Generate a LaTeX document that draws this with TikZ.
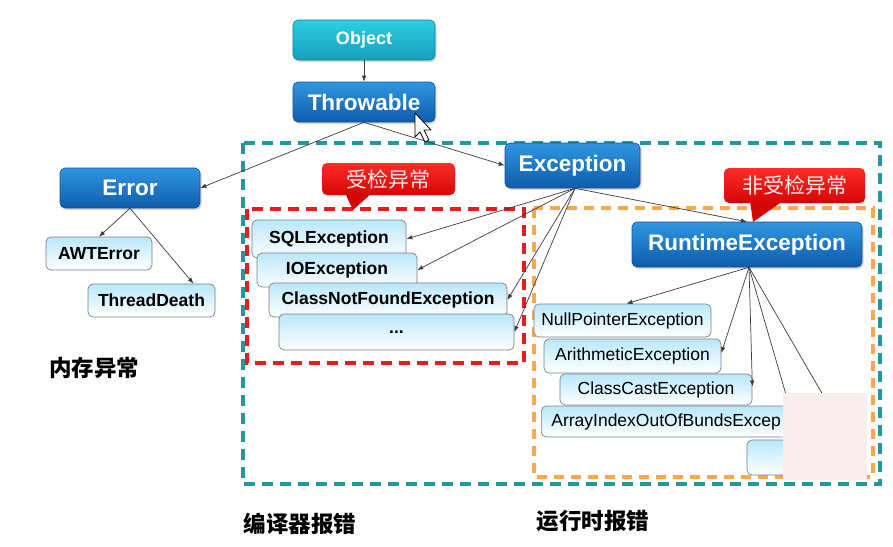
\documentclass[tikz,border=0pt]{standalone}
\usepackage{fontspec}
\setmainfont{Liberation Sans}
\newfontfamily\cjk{Noto Sans CJK SC}
\usetikzlibrary{arrows.meta,shadows}
\definecolor{bluetop}{RGB}{48,150,225}
\definecolor{bluebot}{RGB}{14,92,172}
\definecolor{blueedge}{RGB}{20,80,150}
\definecolor{cyantop}{RGB}{45,205,225}
\definecolor{cyanbot}{RGB}{20,160,190}
\definecolor{lighttop}{RGB}{185,232,250}
\definecolor{lightedge}{RGB}{120,128,136}
\definecolor{tealdash}{RGB}{35,150,160}
\definecolor{reddash}{RGB}{232,28,28}
\definecolor{orangedash}{RGB}{250,168,75}
\definecolor{calltop}{RGB}{252,45,40}
\definecolor{callbot}{RGB}{212,5,5}
\definecolor{calltext}{RGB}{255,232,232}
\definecolor{maskpink}{RGB}{248,238,238}
\definecolor{arrowgray}{RGB}{60,60,60}
\begin{document}
\begin{tikzpicture}[x=1pt,y=-1pt,
  bluebox/.style={rounded corners=5pt, draw=blueedge, line width=0.6pt,
    top color=bluetop, bottom color=bluebot, text=white, inner sep=0pt,
    font=\fontsize{22.5}{26}\selectfont\bfseries,
    drop shadow={shadow xshift=1.5pt,shadow yshift=-2pt,opacity=0.3}},
  cyanbox/.style={bluebox, top color=cyantop, bottom color=cyanbot,
    draw=cyanbot!80!black, font=\fontsize{18}{21}\selectfont\bfseries},
  lightbox/.style={rounded corners=5pt, draw=lightedge, line width=0.7pt,
    top color=lighttop, bottom color=white, inner sep=0pt, text=black,
    font=\fontsize{17.5}{21}\selectfont\bfseries},
  lightreg/.style={lightbox, font=\fontsize{17.5}{21}\selectfont},
  arr/.style={draw=arrowgray, line width=0.7pt, -{Latex[length=6pt,width=4.5pt]}},
  plainline/.style={draw=arrowgray, line width=0.7pt},
  callbox/.style={rounded corners=5pt, top color=calltop, bottom color=callbot,
    inner sep=0pt, text=calltext, font=\cjk\fontsize{21}{24}\selectfont},
  cjklabel/.style={font=\cjk\bfseries\fontsize{22.5}{26}\selectfont, text=black, inner sep=0pt}
]
\useasboundingbox (0,0) rectangle (893,546);
\fill[white] (0,0) rectangle (893,546);

% dashed regions
\draw[tealdash, line width=3.2pt, dash pattern=on 11pt off 7pt] (243,143) rectangle (880,484);
\draw[orangedash, line width=3.2pt, dash pattern=on 10pt off 7pt] (534,208) rectangle (873,477);
\draw[reddash, line width=3.4pt, dash pattern=on 11pt off 7pt] (247,209) rectangle (524,363);

% top hierarchy
\node[cyanbox, minimum width=142pt, minimum height=40pt] (object) at (364,40) {Object};
\node[bluebox, minimum width=142pt, minimum height=40pt] (throwable) at (364,102) {Throwable};
\node[bluebox, minimum width=140pt, minimum height=40pt] (error) at (130,188) {Error};
\node[bluebox, minimum width=135pt, minimum height=45pt] (exception) at (572.5,165.5) {Exception};
\node[bluebox, minimum width=230pt, minimum height=45pt] (runtime) at (747,244.5) {RuntimeException};

% Error children
\node[lightbox, minimum width=106pt, minimum height=33pt] (awt) at (99,253.5) {AWTError};
\node[lightbox, minimum width=127pt, minimum height=33pt] (thread) at (151.5,300.5) {ThreadDeath};

% checked exceptions
\node[lightbox, minimum width=154pt, minimum height=38pt] (sql) at (329,239) {SQLException};
\node[lightbox, minimum width=160pt, minimum height=34pt] (io) at (337,270) {IOException};
\node[lightbox, minimum width=238pt, minimum height=34pt] (cnf) at (388,300) {ClassNotFoundException};
\node[lightbox, minimum width=235pt, minimum height=36pt] (dots) at (396.5,332) {...};

% unchecked exceptions
\node[lightreg, minimum width=177pt, minimum height=33pt] (nullp) at (622.5,320.5) {NullPointerException};
\node[lightreg, minimum width=177pt, minimum height=34pt] (arith) at (632.5,356) {ArithmeticException};
\node[lightreg, minimum width=192pt, minimum height=31pt] (cc) at (656,389.5) {ClassCastException};
\node[lightreg, text width=250pt, align=left, inner xsep=10pt, minimum height=31pt, anchor=west] (array) at (541,421.5) {ArrayIndexOutOfBundsExcep};
\node[lightbox, minimum width=115pt, minimum height=35pt] (last) at (804.5,457.5) {};

% callouts
\fill[callbot] (345,193) -- (353,210) -- (372,193) -- cycle;
\node[callbox, minimum width=133pt, minimum height=32pt] (call1) at (388.5,179) {受检异常};
\fill[callbot] (750,201) -- (753,222) -- (783,201) -- cycle;
\node[callbox, minimum width=141pt, minimum height=35pt] (call2) at (794.5,185.5) {非受检异常};

% connectors
\draw[arr] (object.south) -- (throwable.north);
\draw[arr] (throwable.south) -- (error.east);
\draw[arr] (throwable.south) -- (exception.west);
\draw[arr] (error.south) -- (awt.north);
\draw[arr] (error.south) -- ([xshift=42pt]thread.north);
\coordinate (exs) at ([xshift=2.5pt]exception.south);
\draw[arr] (exs) -- (sql.east);
\draw[arr] (exs) -- (io.east);
\draw[arr] (exs) -- (cnf.east);
\draw[arr] (exs) -- (dots.east);
\draw[arr] (exs) -- (runtime.north);
\coordinate (rts) at ([xshift=2pt]runtime.south);
\draw[arr] (rts) -- ([xshift=4pt]nullp.north);
\draw[arr] (rts) -- ([yshift=3pt]arith.east);
\draw[arr] (rts) -- ([yshift=3pt]cc.east);
\coordinate (hid1) at (789,405);
\coordinate (hid2) at (849,440);
\draw[plainline] (rts) -- (hid1);
\draw[plainline] (rts) -- (hid2);

% pink overlay
\fill[maskpink] (783,393) rectangle (867,480);

% labels
\node[cjklabel] (mem) at (94,368) {内存异常};
\node[cjklabel] (comp) at (300,524) {编译器报错};
\node[cjklabel] (run) at (593,521) {运行时报错};

% mouse cursor
\draw[fill=white, draw=black, line width=0.8pt, line join=round]
  (415,113) -- (415,137) -- (420,132) -- (425,142) -- (429,140) -- (424,130) -- (431,130) -- cycle;
\end{tikzpicture}
\end{document}
